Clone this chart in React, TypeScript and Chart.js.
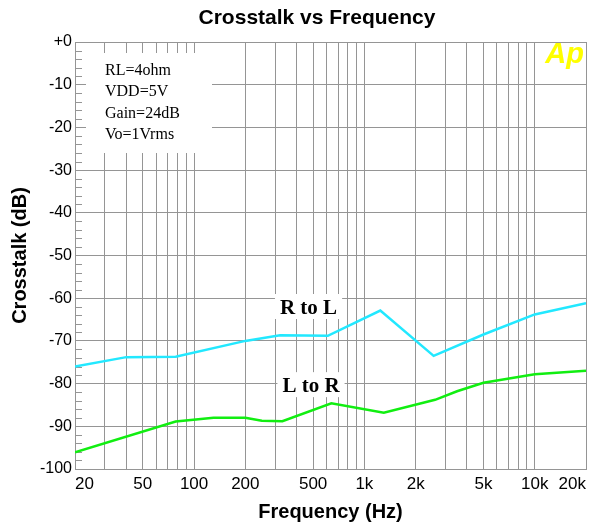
import React, { useEffect, useRef } from "react";
import { Chart, registerables } from "chart.js";

Chart.register(...registerables);

// ---- data ----
const rlFreqs = [20, 40, 78, 200, 320, 610, 1240, 2550, 5000, 10000, 20000];
const rlValues = [-76, -73.8, -73.7, -70.0, -68.7, -68.8, -62.9, -73.5, -68.5, -63.8, -61.2];

const lrFreqs = [20, 78, 130, 200, 250, 330, 640, 1300, 2600, 3500, 5000, 10000, 20000];
const lrValues = [-96.1, -88.9, -88.0, -88.0, -88.7, -88.8, -84.6, -86.8, -83.8, -81.8, -79.8, -77.8, -77];

const xGridValues = [
  20, 30, 40, 50, 60, 70, 80, 90,
  100, 200, 300, 400, 500, 600, 700, 800, 900,
  1000, 2000, 3000, 4000, 5000, 6000, 7000, 8000, 9000,
  10000, 20000,
];
const xLabelValues = [20, 50, 100, 200, 500, 1000, 2000, 5000, 10000, 20000];
const xLabelTexts = ["20", "50", "100", "200", "500", "1k", "2k", "5k", "10k", "20k"];

const yTickValues = [0, -10, -20, -30, -40, -50, -60, -70, -80, -90, -100];
const yTickTexts = ["+0", "-10", "-20", "-30", "-40", "-50", "-60", "-70", "-80", "-90", "-100"];

const infoLines = ["RL=4ohm", "VDD=5V", "Gain=24dB", "Vo=1Vrms"];
const seriesNames = ["R to L", "L to R"];
// label anchors in data units: [freq, dB (baseline)]
const labelAnchors = [
  [470, -63.7],
  [486, -82.0],
];

const GRID = "#959595";
const SANS = "'Liberation Sans', Arial, sans-serif";
const SERIF = "'Liberation Serif', 'Times New Roman', serif";

const decorPlugin = {
  id: "decor",
  beforeDatasetsDraw(chart: any) {
    const { ctx, chartArea: a, scales } = chart;
    const xs = scales.x;
    const ys = scales.y;
    ctx.save();

    // info box (white background over grid)
    ctx.fillStyle = "#ffffff";
    ctx.fillRect(a.left + 11, a.top + 11, 126, 100);

    // series labels with white boxes
    ctx.font = `bold 21px ${SERIF}`;
    seriesNames.forEach((name, i) => {
      const cx = xs.getPixelForValue(labelAnchors[i][0]);
      const by = ys.getPixelForValue(labelAnchors[i][1]);
      const w = ctx.measureText(name).width;
      ctx.fillStyle = "#ffffff";
      ctx.fillRect(cx - w / 2 - 5, by - 20, w + 10, 25);
      ctx.fillStyle = "#000000";
      ctx.textAlign = "center";
      ctx.textBaseline = "alphabetic";
      ctx.fillText(name, cx, by);
    });

    // minor ticks on left axis (every 2 dB)
    ctx.strokeStyle = GRID;
    ctx.lineWidth = 1;
    for (let v = -2; v > -100; v -= 2) {
      if (v % 10 === 0) continue;
      const py = Math.round(ys.getPixelForValue(v)) + 0.5;
      ctx.beginPath();
      ctx.moveTo(a.left, py);
      ctx.lineTo(a.left + 7, py);
      ctx.stroke();
    }

    // info text
    ctx.fillStyle = "#000000";
    ctx.font = `16px ${SERIF}`;
    ctx.textAlign = "left";
    ctx.textBaseline = "alphabetic";
    infoLines.forEach((t, i) => {
      ctx.fillText(t, a.left + 30, a.top + 33 + i * 21.3);
    });

    // Ap logo
    ctx.fillStyle = "#ffff00";
    ctx.font = `italic bold 29px ${SANS}`;
    ctx.textAlign = "right";
    ctx.fillText("Ap", a.right - 2, a.top + 21);

    ctx.restore();
  },
};

export default function App() {
  const ref = useRef<HTMLCanvasElement | null>(null);

  useEffect(() => {
    document.body.style.margin = "0";
    const canvas = ref.current;
    if (!canvas) return;
    const chart = new Chart(canvas, {
      type: "line",
      data: {
        datasets: [
          {
            label: seriesNames[0],
            data: rlFreqs.map((f, i) => ({ x: f, y: rlValues[i] })),
            borderColor: "#22e8ff",
            borderWidth: 2.5,
            pointRadius: 0,
            tension: 0,
            fill: false,
          },
          {
            label: seriesNames[1],
            data: lrFreqs.map((f, i) => ({ x: f, y: lrValues[i] })),
            borderColor: "#11ee11",
            borderWidth: 2.5,
            pointRadius: 0,
            tension: 0,
            fill: false,
          },
        ],
      },
      options: {
        responsive: false,
        animation: false,
        devicePixelRatio: 1,
        layout: { padding: { left: 48, right: 8, top: 0, bottom: 0 } },
        plugins: {
          legend: { display: false },
          tooltip: { enabled: false },
          title: {
            display: true,
            text: "Crosstalk vs Frequency",
            color: "#000000",
            font: { family: SANS, size: 21, weight: "bold" },
            padding: { top: 6, bottom: 10.8 },
          },
        },
        scales: {
          x: {
            type: "logarithmic",
            min: 20,
            max: 20000,
            afterBuildTicks: (s: any) => {
              s.ticks = xGridValues.map((v) => ({ value: v }));
            },
            afterFit: (s: any) => {
              s.height = 58;
            },
            ticks: {
              autoSkip: false,
              maxRotation: 0,
              minRotation: 0,
              align: "inner",
              padding: 5,
              color: "#000000",
              font: { family: SANS, size: 17 },
              callback: (v: any) => {
                const idx = xLabelValues.indexOf(Number(v));
                return idx >= 0 ? xLabelTexts[idx] : "";
              },
            },
            grid: { color: GRID, lineWidth: 1, drawTicks: false },
            border: { color: GRID },
            title: {
              display: true,
              text: "Frequency (Hz)",
              color: "#000000",
              font: { family: SANS, size: 20, weight: "bold" },
              padding: { top: 0, bottom: 3 },
            },
          },
          y: {
            type: "linear",
            min: -100,
            max: 0,
            afterBuildTicks: (s: any) => {
              s.ticks = yTickValues.map((v) => ({ value: v }));
            },
            afterFit: (s: any) => {
              s.width = 27;
            },
            afterUpdate: (s: any) => {
              // let tick labels extend left of the (narrow) scale box
              s._computeLabelArea = () => undefined;
            },
            ticks: {
              padding: 3,
              color: "#000000",
              font: { family: SANS, size: 16 },
              callback: (v: any) => {
                const idx = yTickValues.indexOf(Number(v));
                return idx >= 0 ? yTickTexts[idx] : "";
              },
            },
            grid: { color: GRID, lineWidth: 1, drawTicks: false },
            border: { color: GRID },
            title: {
              display: true,
              text: "Crosstalk (dB)",
              color: "#000000",
              font: { family: SANS, size: 20, weight: "bold" },
              padding: { top: -40, bottom: 0 },
            },
          },
        },
      },
      plugins: [decorPlugin],
    } as any);
    return () => chart.destroy();
  }, []);

  return (
    <div style={{ width: 594, height: 527 }}>
      <canvas ref={ref} width={594} height={527} style={{ display: "block" }} />
    </div>
  );
}
